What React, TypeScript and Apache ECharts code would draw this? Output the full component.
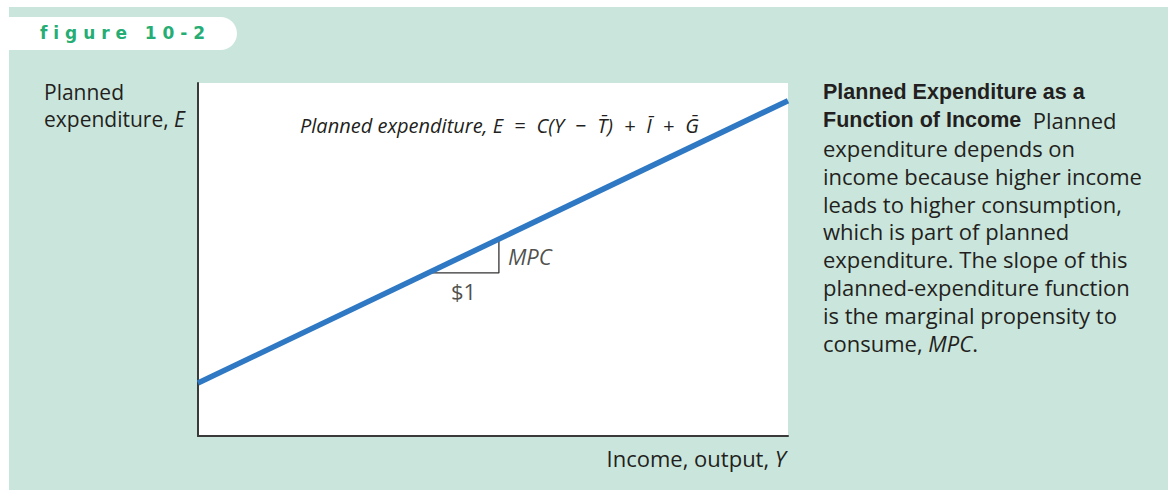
import React, { useEffect, useRef } from 'react';
import * as echarts from 'echarts';

// Axis ranges (no tick labels shown in the reference)
const incomeRange = [0, 10];
const expenditureRange = [0, 10];

// Planned-expenditure line: E at the two ends of the income axis
const lineIncome = [0, 10];
const lineExpenditure = [1.5, 9.5];

// The "$1 / MPC" step triangle under the line
const stepIncome = [3.9, 5.1];
const stepExpenditure = [4.62, 5.58];

const figureLabel = 'f i g u r e   1 0 - 2';
const yAxisName = ['Planned', 'expenditure, '];
const yAxisVar = 'E';
const xAxisName = 'Income, output, ';
const xAxisVar = 'Y';
const SP = '\u2007';
const equationText =
  'Planned expenditure, E' + SP + '=' + SP + 'C(Y' + SP + '\u2212' + SP + 'T\u0304)' + SP + '+' + SP + 'I\u0304' + SP + '+' + SP + 'G\u0304';
const stepRunLabel = '$1';
const stepRiseLabel = 'MPC';

const captionLines = [
  '{b|Planned Expenditure as a}',
  '{b|Function of Income}{r|  Planned}',
  '{r|expenditure depends on}',
  '{r|income because higher income}',
  '{r|leads to higher consumption,}',
  '{r|which is part of planned}',
  '{r|expenditure. The slope of this}',
  '{r|planned-expenditure function}',
  '{r|is the marginal propensity to}',
  '{r|consume, }{i|MPC}{r|.}',
];

const TEXT = '#231f20';
const GREEN_BG = '#cae6dc';
const BODY_FONT = '"Open Sans", Lato, sans-serif';

export default function App() {
  const ref = useRef<HTMLDivElement>(null);

  useEffect(() => {
    if (!ref.current) return;
    const chart = echarts.init(ref.current, undefined, { renderer: 'svg' });

    const linePts = lineIncome.map((x, i) => [x, lineExpenditure[i]]);
    const stepPts = [
      [stepIncome[0], stepExpenditure[0]],
      [stepIncome[1], stepExpenditure[0]],
      [stepIncome[1], stepExpenditure[1]],
    ];

    const option: any = {
      animation: false,
      backgroundColor: GREEN_BG,
      grid: {
        left: 198,
        top: 83,
        right: 380,
        bottom: 54,
        show: true,
        backgroundColor: '#ffffff',
        borderWidth: 0,
      },
      xAxis: {
        type: 'value',
        min: incomeRange[0],
        max: incomeRange[1],
        axisLine: { show: true, lineStyle: { color: '#3a3a3a', width: 2 } },
        axisTick: { show: false },
        axisLabel: { show: false },
        splitLine: { show: false },
        name: xAxisName + '{i|' + xAxisVar + '}',
        nameLocation: 'end',
        nameGap: 0,
        nameTextStyle: {
          align: 'right',
          verticalAlign: 'top',
          padding: [11, 2, 0, 0],
          fontFamily: BODY_FONT,
          fontSize: 22,
          color: TEXT,
          rich: {
            i: { fontFamily: BODY_FONT, fontSize: 22, fontStyle: 'italic', color: TEXT },
          },
        },
      },
      yAxis: {
        type: 'value',
        min: expenditureRange[0],
        max: expenditureRange[1],
        axisLine: { show: true, lineStyle: { color: '#3a3a3a', width: 2 } },
        axisTick: { show: false },
        axisLabel: { show: false },
        splitLine: { show: false },
      },
      series: [
        {
          type: 'line',
          data: stepPts,
          symbol: 'none',
          lineStyle: { color: '#333333', width: 1.3 },
          z: 2,
        },
        {
          type: 'line',
          data: linePts,
          symbol: 'none',
          lineStyle: { color: '#2f78c3', width: 5.5 },
          z: 3,
        },
        {
          type: 'scatter',
          symbolSize: 0,
          silent: true,
          data: [
            {
              value: [(stepIncome[0] + stepIncome[1]) / 2, stepExpenditure[0]],
              label: {
                show: true,
                formatter: stepRunLabel,
                position: 'bottom',
                distance: 7,
                fontFamily: BODY_FONT,
                fontSize: 22,
                color: TEXT,
              },
            },
            {
              value: [stepIncome[1], (stepExpenditure[0] + stepExpenditure[1]) / 2],
              label: {
                show: true,
                formatter: stepRiseLabel,
                position: 'right',
                distance: 9,
                fontFamily: BODY_FONT,
                fontSize: 22,
                fontStyle: 'italic',
                color: TEXT,
              },
            },
          ],
          z: 4,
        },
      ],
      graphic: [
        // white page margins around the green panel
        { type: 'rect', shape: { x: 0, y: 0, width: 1168, height: 7 }, style: { fill: '#ffffff' }, silent: true },
        { type: 'rect', shape: { x: 0, y: 0, width: 9, height: 490 }, style: { fill: '#ffffff' }, silent: true },
        // figure tab
        {
          type: 'rect',
          shape: { x: 9, y: 17, width: 228, height: 33, r: [0, 17, 17, 0] },
          style: { fill: '#ffffff' },
          silent: true,
        },
        {
          type: 'text',
          x: 40,
          y: 33,
          style: {
            text: figureLabel,
            fontFamily: '"DejaVu Sans", sans-serif',
            fontWeight: 'bold',
            fontSize: 17,
            fill: '#25ad74',
            verticalAlign: 'middle',
          },
        },
        // y axis name
        {
          type: 'text',
          x: 44,
          y: 78,
          style: {
            text: '{r|' + yAxisName[0] + '}\n{r|' + yAxisName[1] + '}{i|' + yAxisVar + '}',
            rich: {
              r: { fontFamily: BODY_FONT, fontSize: 21, lineHeight: 27, fill: TEXT },
              i: { fontFamily: BODY_FONT, fontSize: 21, lineHeight: 27, fontStyle: 'italic', fill: TEXT },
            },
          },
        },
        // equation label
        {
          type: 'text',
          x: 300,
          y: 125,
          style: {
            text: equationText,
            fontFamily: BODY_FONT,
            fontSize: 20,
            fontStyle: 'italic',
            fill: TEXT,
            verticalAlign: 'middle',
          },
        },
        // caption
        {
          type: 'text',
          x: 823,
          y: 78,
          style: {
            text: captionLines.join('\n'),
            rich: {
              b: {
                fontFamily: '"Liberation Sans", Arial, sans-serif',
                fontWeight: 'bold',
                fontSize: 21.5,
                lineHeight: 27.9,
                fill: TEXT,
              },
              r: { fontFamily: BODY_FONT, fontSize: 22, lineHeight: 27.9, fill: TEXT },
              i: { fontFamily: BODY_FONT, fontSize: 22, lineHeight: 27.9, fontStyle: 'italic', fill: TEXT },
            },
          },
        },
      ],
    };

    chart.setOption(option);
    return () => chart.dispose();
  }, []);

  return (
    <div
      ref={ref}
      style={{ position: 'absolute', left: 0, top: 0, width: 1168, height: 490 }}
    />
  );
}
